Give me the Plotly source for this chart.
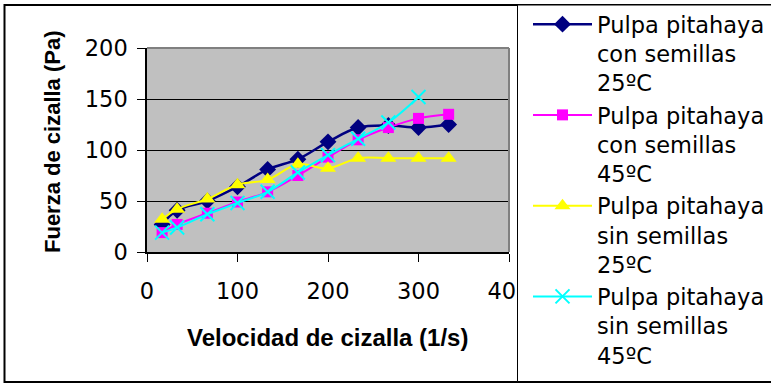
import plotly.graph_objects as go

# ---- data ----
shear_rate = [16.7, 33.3, 66.7, 100, 133.3, 166.7, 200, 233.3, 266.7, 300, 333.3]
con_25 = [27, 41, 50, 64, 81, 91, 108, 122, 124, 122, 125]
con_45 = [19, 27, 38, 49, 59, 75, 93, 110, 122, 131, 135]
sin_25 = [32, 42, 52, 66, 71, 86, 82, 92, 92, 92, 92]
sin_45 = [19, 24, 37, 48, 59, 78, 95, 111, 127, 152]

names = [
    "Pulpa pitahaya<br>con semillas<br>25ºC",
    "Pulpa pitahaya<br>con semillas<br>45ºC",
    "Pulpa pitahaya<br>sin semillas<br>25ºC",
    "Pulpa pitahaya<br>sin semillas<br>45ºC",
]
x_ticks = [0, 100, 200, 300, 400]
y_ticks = [0, 50, 100, 150, 200]
x_title = "Velocidad de cizalla (1/s)"
y_title = "Fuerza de cizalla (Pa)"

# ---- layout geometry ----
W, H = 771, 383
ML, MR, MT, MB = 147, 262, 48, 131
PW, PH = W - ML - MR, H - MT - MB


def px_x(p):
    return (p - ML) / PW


def px_y(p):
    return (H - MB - p) / PH


REG = "DejaVu Sans"
BOLD = "Liberation Sans, Arial"

fig = go.Figure()
fig.add_trace(go.Scatter(
    x=shear_rate, y=con_25, name=names[0], mode="lines+markers",
    line=dict(color="#000080", width=2.5, shape="spline"),
    marker=dict(symbol="diamond", size=13, color="#000080"),
))
fig.add_trace(go.Scatter(
    x=shear_rate, y=con_45, name=names[1], mode="lines+markers",
    line=dict(color="#FF00FF", width=2, shape="spline"),
    marker=dict(symbol="square", size=11, color="#FF00FF"),
))
fig.add_trace(go.Scatter(
    x=shear_rate, y=sin_25, name=names[2], mode="lines+markers",
    line=dict(color="#FFFF00", width=2, shape="spline"),
    marker=dict(symbol="triangle-up", size=14, color="#FFFF00"),
))
fig.add_trace(go.Scatter(
    x=shear_rate[:len(sin_45)], y=sin_45, name=names[3], mode="lines+markers",
    line=dict(color="#00FFFF", width=2, shape="spline"),
    marker=dict(symbol="x-thin", size=14, color="#00FFFF",
                line=dict(color="#00FFFF", width=2)),
))

shapes = [
    # outer chart border
    dict(type="rect", xref="paper", yref="paper",
         x0=px_x(4.5), x1=px_x(800), y0=px_y(382), y1=px_y(5),
         line=dict(color="black", width=2), layer="above"),
    # legend box
    dict(type="rect", xref="paper", yref="paper",
         x0=px_x(517.5), x1=px_x(800), y0=px_y(381.5), y1=px_y(5),
         line=dict(color="black", width=1), fillcolor="white", layer="above"),
    # plot area top / right grey border
    dict(type="line", xref="paper", yref="paper", x0=0, x1=1, y0=1, y1=1,
         line=dict(color="#808080", width=2), layer="above"),
    dict(type="line", xref="paper", yref="paper", x0=1, x1=1, y0=0, y1=1,
         line=dict(color="#808080", width=2), layer="above"),
]

annotations = [
    dict(text=y_title, xref="paper", yref="paper", x=px_x(52), y=px_y(142),
         xanchor="center", yanchor="middle", textangle=-90, showarrow=False,
         font=dict(family=BOLD, size=22, color="black", weight="bold")),
    dict(text=x_title, xref="paper", yref="paper", x=px_x(327), y=px_y(337),
         xanchor="center", yanchor="middle", showarrow=False,
         font=dict(family=BOLD, size=24, color="black", weight="bold")),
]

fig.update_layout(
    width=W, height=H,
    margin=dict(l=ML, r=MR, t=MT, b=MB, pad=0, autoexpand=False),
    paper_bgcolor="white",
    plot_bgcolor="#C0C0C0",
    showlegend=True,
    legend=dict(
        xref="container", yref="container",
        x=528 / W, y=1 - 3 / H, xanchor="left", yanchor="top",
        bgcolor="rgba(0,0,0,0)", borderwidth=0,
        font=dict(family=REG, size=22.5, color="black"),
        itemwidth=59, valign="top", tracegroupgap=0,
        maxheight=H,
    ),
    shapes=shapes,
    annotations=annotations,
)

fig.update_xaxes(
    range=[0, 400], tickvals=x_ticks, ticktext=[str(v) for v in x_ticks],
    showgrid=False, zeroline=False,
    showline=True, linecolor="black", linewidth=1.5,
    ticks="outside", ticklen=8, tickcolor="black", tickwidth=1,
    ticklabelstandoff=10,
    tickfont=dict(family=REG, size=22.5, color="black"),
)
fig.update_yaxes(
    range=[0, 200], tickvals=y_ticks, ticktext=[str(v) for v in y_ticks],
    showgrid=True, gridcolor="black", gridwidth=1, zeroline=False,
    showline=True, linecolor="black", linewidth=1.5,
    ticks="outside", ticklen=8, tickcolor="black", tickwidth=1,
    ticklabelstandoff=5,
    tickfont=dict(family=REG, size=22.5, color="black"),
)

fig.write_html("out.html")
